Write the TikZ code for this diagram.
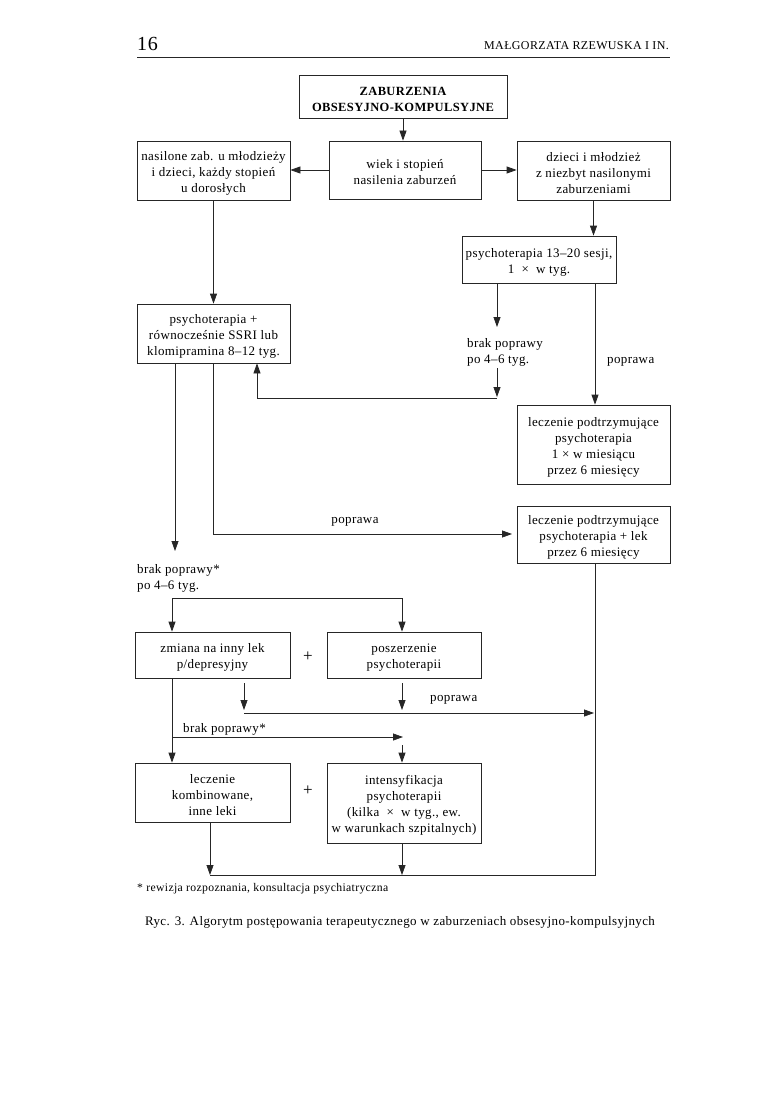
\documentclass[tikz,border=0pt]{standalone}
\usepackage{fontspec}
\setmainfont[LetterSpace=3]{Liberation Serif}
\usetikzlibrary{arrows.meta}
\newcommand\tfirst{\rule{0pt}{14pt}}
\tikzset{
  box/.style={draw=black!85, line width=0.75pt, inner sep=0pt, align=center, font=\fontsize{13}{16}\selectfont},
  lbl/.style={inner sep=0pt, font=\fontsize{13}{16}\selectfont},
  conn/.style={draw=black!85, line width=0.75pt},
  arr/.style={conn, -{Triangle[length=10pt,width=7pt]}},
}
\begin{document}
\begin{tikzpicture}[x=1pt,y=-1pt]
\useasboundingbox[fill=white] (0,0) rectangle (775,1094);
% header
\node[lbl, anchor=base west, font=\fontsize{20}{21}\selectfont] (pg) at (137,51) {16};
\node[lbl, anchor=base east, font=\fontsize{12}{14}\selectfont] (auth) at (669,50) {MAŁGORZATA RZEWUSKA I IN.};
\coordinate (hr1) at (137,57); \coordinate (hr2) at (670,57);
\draw[conn, line width=0.6pt] (hr1) -- (hr2);
% boxes
\node[box, minimum width=208, minimum height=43, font=\fontsize{12.5}{16}\selectfont\bfseries] (top) at (403,96.5) {\tfirst ZABURZENIA\\OBSESYJNO-KOMPULSYJNE};
\node[box, minimum width=152, minimum height=58] (mid) at (405,170) {\tfirst wiek i stopień\\nasilenia zaburzeń};
\node[box, minimum width=153, minimum height=59] (l1) at (213.5,170.5) {\tfirst nasilone zab. u młodzieży\\i dzieci, każdy stopień\\u dorosłych};
\node[box, minimum width=153, minimum height=59] (r1) at (593.5,170.5) {\tfirst dzieci i młodzież\\z niezbyt nasilonymi\\zaburzeniami};
\node[box, minimum width=154, minimum height=47] (p1) at (539,259.5) {\tfirst psychoterapia 13–20 sesji,\\1 ~×~ w tyg.};
\node[box, minimum width=153, minimum height=59] (l2) at (213.5,333.5) {\tfirst psychoterapia +\\równocześnie SSRI lub\\klomipramina 8–12 tyg.};
\node[box, minimum width=153, minimum height=79] (lp1) at (593.5,444.5) {\tfirst leczenie podtrzymujące\\psychoterapia\\1 × w miesiącu\\przez 6 miesięcy};
\node[box, minimum width=153, minimum height=57] (lp2) at (593.5,534.5) {\tfirst leczenie podtrzymujące\\psychoterapia + lek\\przez 6 miesięcy};
\node[box, minimum width=155, minimum height=46] (zm) at (212.5,655) {\tfirst zmiana na inny lek\\p/depresyjny};
\node[box, minimum width=154, minimum height=46] (pz) at (404,655) {\tfirst poszerzenie\\psychoterapii};
\node[box, minimum width=155, minimum height=59] (lk) at (212.5,792.5) {\tfirst leczenie\\kombinowane,\\inne leki};
\node[box, minimum width=154, minimum height=80] (in) at (404,803) {\tfirst intensyfikacja\\psychoterapii\\(kilka ~×~ w tyg., ew.\\w warunkach szpitalnych)};
\node[lbl, font=\fontsize{17}{18}\selectfont] (plus1) at (308,657) {+};
\node[lbl, font=\fontsize{17}{18}\selectfont] (plus2) at (308,791) {+};
% labels
\node[lbl, anchor=base west] (bp1a) at (467,347) {brak poprawy};
\node[lbl, anchor=base west] (bp1b) at (467,363) {po 4–6 tyg.};
\node[lbl, anchor=base west] (pop1) at (607,363) {poprawa};
\node[lbl, anchor=base] (pop2) at (355,523) {poprawa};
\node[lbl, anchor=base west] (bp2a) at (137,573) {brak poprawy*};
\node[lbl, anchor=base west] (bp2b) at (137,589) {po 4–6 tyg.};
\node[lbl, anchor=base west] (pop3) at (430,701) {poprawa};
\node[lbl, anchor=base west] (bp3) at (183,732) {brak poprawy*};
\node[lbl, anchor=base west, font=\fontsize{11.7}{13}\selectfont] (foot) at (137,891) {* rewizja rozpoznania, konsultacja psychiatryczna};
\node[lbl, anchor=base, font=\fontsize{13}{15}\selectfont] (cap) at (400,925) {Ryc. 3. Algorytm postępowania terapeutycznego w zaburzeniach obsesyjno-kompulsyjnych};
% connectors
\draw[arr] (top.south) -- (top.south |- mid.north);
\draw[arr] (mid.west) -- (mid.west -| l1.east);
\draw[arr] (mid.east) -- (mid.east -| r1.west);
\draw[arr] (l1.south) -- (l2.north);
\draw[arr] (r1.south) -- (r1.south |- p1.north);
\coordinate (bpA) at (497,327);
\draw[arr] (p1.south -| bpA) -- (bpA);
\coordinate (bpB) at (497,368);
\coordinate (bpC) at (497,397);
\draw[arr] (bpB) -- (bpC);
\coordinate (bpD) at (497,398);
\coordinate (bpE) at (257,398);
\draw[arr] (bpD) -- (bpE) -- (bpE |- l2.south);
\coordinate (x595) at (595,0);
\draw[arr] (p1.south -| x595) -- (lp1.north -| x595);
\coordinate (pA) at (213,534);
\coordinate (pB) at (512,534);
\draw[arr] (l2.south -| pA) -- (pA) -- (pB);
\coordinate (bA) at (175,551);
\draw[arr] (l2.south -| bA) -- (bA);
\coordinate (sL) at (172,598);
\coordinate (sR) at (402,598);
\draw[conn] (sL) -- (sR);
\draw[arr] (sL) -- (zm.north -| sL);
\draw[arr] (sR) -- (pz.north -| sR);
\coordinate (zA) at (244,683); \coordinate (zB) at (244,710);
\draw[arr] (zA) -- (zB);
\coordinate (pzA) at (402,683); \coordinate (pzB) at (402,710);
\draw[arr] (pzA) -- (pzB);
\coordinate (hA) at (244,713); \coordinate (hB) at (594,713);
\draw[arr] (hA) -- (hB);
\draw[arr] (zm.south -| sL) -- (lk.north -| sL);
\coordinate (bL) at (172,737); \coordinate (bR) at (403,737);
\draw[arr] (bL) -- (bR);
\coordinate (iA) at (402,745);
\draw[arr] (iA) -- (in.north -| iA);
\coordinate (fL) at (210,875); \coordinate (fM) at (402,875); \coordinate (fR) at (595,875);
\draw[arr] (lk.south -| fL) -- (fL);
\draw[arr] (in.south -| fM) -- (fM);
\draw[conn] (fL) -- (fR) -- (lp2.south -| fR);
\end{tikzpicture}
\end{document}
